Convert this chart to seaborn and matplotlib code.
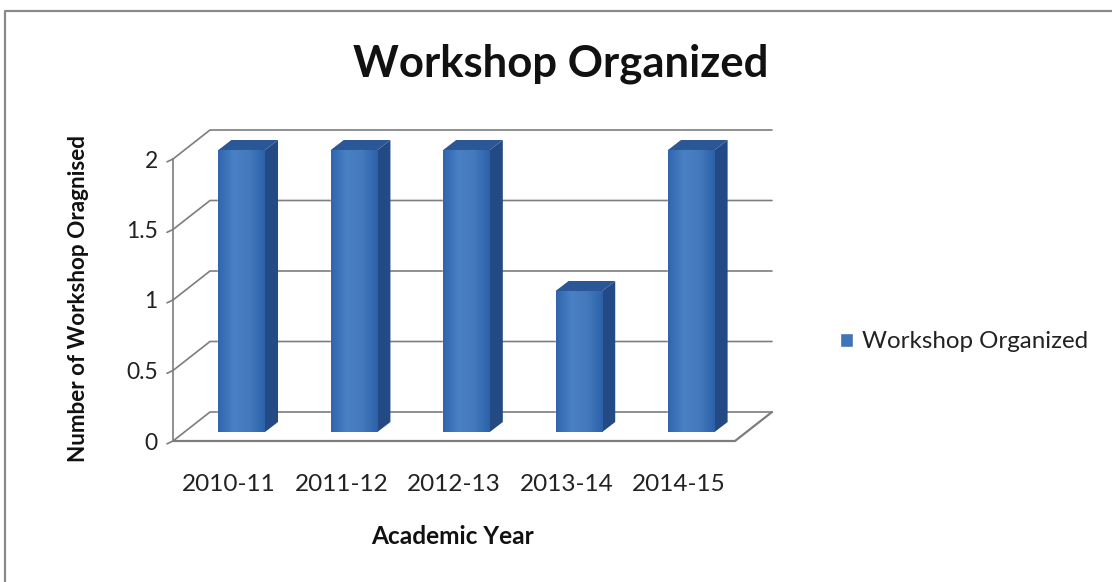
import matplotlib
matplotlib.use("Agg")
import matplotlib.pyplot as plt
import numpy as np
import pandas as pd
import seaborn as sns
from matplotlib.lines import Line2D
from matplotlib.patches import Polygon

years = ["2010-11", "2011-12", "2012-13", "2013-14", "2014-15"]
workshops = [2, 2, 2, 1, 2]
y_ticks = [0, 0.5, 1, 1.5, 2]
y_tick_labels = ["0", "0.5", "1", "1.5", "2"]

sns.set_theme(style="white")
plt.rcParams['font.family'] = ['Lato', 'DejaVu Sans']

W, H = 1112, 582
df = pd.DataFrame({"year": years, "count": workshops})

fig = plt.figure(figsize=(W / 100, H / 100), dpi=100)
ax = fig.add_axes([173 / W, 1 - 441 / H, 562 / W, 282 / H])

sns.barplot(data=df, x="year", y="count", color="#3F74B8", saturation=1,
            width=0.415, ax=ax, zorder=3, label="Workshop Organized")
ax.get_legend().remove()
ax.set_xlim(-0.5, 4.5)
ax.set_ylim(0, 2)

px_x = 562 / 5   # pixels per category
px_y = 141       # pixels per unit

# back wall offset
wall_dx = 37 / px_x
wall_dy = 29 / px_y
grey = "#7d7d7d"
for v in y_ticks:
    ax.plot([-0.5, -0.5 + wall_dx, 4.5 + wall_dx],
            [v, v + wall_dy, v + wall_dy],
            color=grey, lw=1.2, clip_on=False, zorder=1)
# floor
ax.plot([-0.5, 4.5, 4.5 + wall_dx], [0, 0, wall_dy], color=grey, lw=1.6,
        clip_on=False, zorder=1)

# --- fake 3D boxes on the seaborn bars ---
bar_dx = 12.5 / px_x
bar_dy = 9 / px_y
depth_x = 13 / px_x
depth_y = 10 / px_y
cmap = matplotlib.colors.LinearSegmentedColormap.from_list(
    "front", ["#2F66AE", "#4A80C4", "#4479BC", "#2C62AA"])
grad = np.linspace(0, 1, 64).reshape(1, -1)
for bar in ax.patches:
    bar.set_x(bar.get_x() + bar_dx)
    bar.set_y(bar_dy)
    x0, x1 = bar.get_x(), bar.get_x() + bar.get_width()
    y0, y1 = bar_dy, bar_dy + bar.get_height()
    ax.add_patch(Polygon([(x1, y0), (x1 + depth_x, y0 + depth_y),
                          (x1 + depth_x, y1 + depth_y), (x1, y1)],
                         closed=True, fc="#234A85", ec="none", zorder=3, clip_on=False))
    ax.add_patch(Polygon([(x0, y1), (x0 + depth_x, y1 + depth_y),
                          (x1 + depth_x, y1 + depth_y), (x1, y1)],
                         closed=True, fc="#2B5797", ec="none", zorder=3, clip_on=False))
    img = ax.imshow(grad, extent=[x0, x1, y0, y1], cmap=cmap, aspect="auto", zorder=4)
    img.set_clip_path(bar)
ax.set_xlim(-0.5, 4.5)
ax.set_ylim(0, 2)

sns.despine(ax=ax, top=True, right=True, bottom=True)
ax.spines["left"].set_color(grey)
ax.spines["left"].set_linewidth(1.2)
ax.set_yticks(y_ticks)
ax.set_yticklabels(y_tick_labels, fontsize=16.5, color="#222222")
ax.tick_params(axis="y", left=False, pad=5)
ax.tick_params(axis="x", bottom=False, pad=18)
ax.set_xticks(range(len(years)))
ax.set_xticklabels(years, fontsize=17.5, color="#222222")
ax.set_xlabel("")
ax.set_ylabel("")
for v in y_ticks:
    ax.plot([-0.5 - 6 / px_x, -0.5], [v - 0.02, v], color=grey, lw=1.2, clip_on=False, zorder=1)

fig.text(561 / W, 1 - 64 / H, "Workshop Organized", fontsize=31.4, fontweight="bold",
         ha="center", va="center", color="#111111")
fig.text(453 / W, 1 - 537 / H, "Academic Year", fontsize=17.6, fontweight="bold",
         ha="center", va="center", color="#111111")
fig.text(79 / W, 1 - 298 / H, "Number of Workshop Oragnised", fontsize=16.2, fontweight="bold",
         rotation=90, ha="center", va="center", color="#111111")

handles, labels = ax.get_legend_handles_labels()
fig.legend(handles, labels, loc="center left", bbox_to_anchor=(840 / W, 1 - 342 / H),
           frameon=False, fontsize=17.4, handlelength=0.54, handleheight=0.54,
           handletextpad=0.37, labelcolor="#222222", borderpad=0, borderaxespad=0)

# outer chart frame
fig.add_artist(Line2D([5 / W, 5 / W, 1], [0, 1 - 11 / H, 1 - 11 / H],
                      transform=fig.transFigure, color="#8a8a8a", lw=1.6))

fig.savefig("out.png", dpi=100)
